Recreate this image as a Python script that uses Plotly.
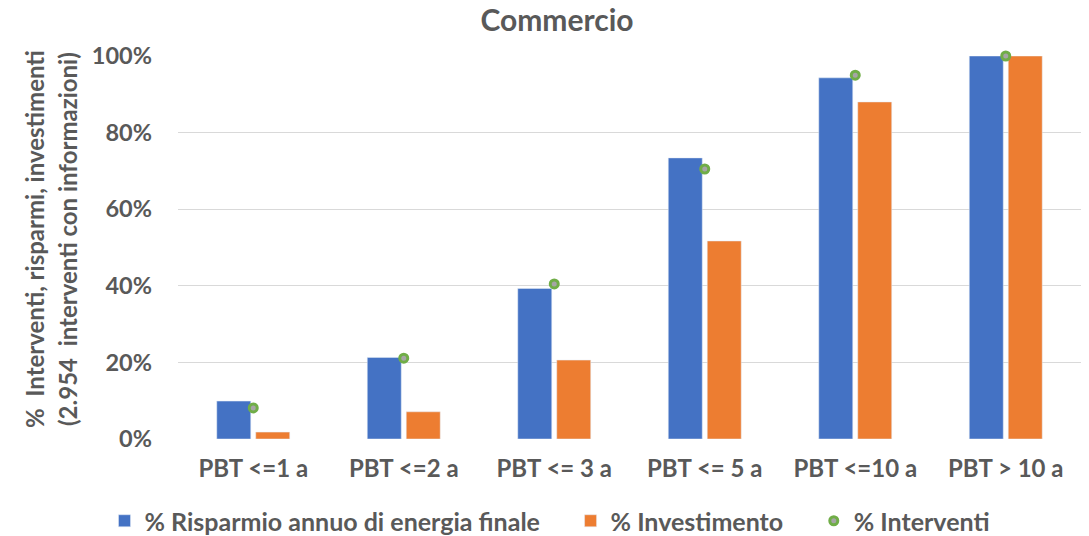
import plotly.graph_objects as go

categories = ["PBT <=1 a", "PBT <=2 a", "PBT <= 3 a", "PBT <= 5 a", "PBT <=10 a", "PBT > 10 a"]
risparmio = [0.099, 0.213, 0.393, 0.734, 0.943, 1.0]
investimento = [0.018, 0.071, 0.206, 0.517, 0.880, 1.0]
interventi = [0.081, 0.211, 0.405, 0.705, 0.950, 1.0]
y_title_lines = ["%  Interventi, risparmi, investimenti", "(2.954  interventi con informazioni)"]

FONT = "Lato"
GRAY = "#595959"
SP = "&nbsp;" * 4

fig = go.Figure()
fig.add_trace(go.Bar(x=categories, y=risparmio, name="<b>% Risparmio annuo di energia finale</b>" + SP,
                     marker=dict(color="#4472C4")))
fig.add_trace(go.Bar(x=categories, y=investimento, name="<b>% Investimento</b>" + SP,
                     marker=dict(color="#ED7D31")))
fig.add_trace(go.Scatter(x=categories, y=interventi, name="<b>% Interventi</b>", mode="markers",
                         marker=dict(color="#A5A5A5", size=8, line=dict(color="#70AD47", width=3)),
                         cliponaxis=False))

fig.update_layout(
    width=1089, height=536,
    paper_bgcolor="white", plot_bgcolor="white",
    margin=dict(l=178, r=8, t=56, b=97, autoexpand=False),
    barmode="group", bargap=0.482, bargroupgap=0.128,
    title=dict(text="<b>Commercio</b>", xref="container", x=557 / 1089, xanchor="center",
               y=1 - 20 / 536, yanchor="middle",
               font=dict(family=FONT, size=30, color=GRAY)),
    font=dict(family=FONT, color=GRAY),
    showlegend=True,
    legend=dict(orientation="h", xref="container", x=550 / 1089, xanchor="center",
                yref="container", y=(536 - 521) / 536, yanchor="middle",
                font=dict(family=FONT, size=25, color=GRAY), itemwidth=30,
                traceorder="normal"),
    yaxis=dict(range=[0, 1], tickvals=[0, 0.2, 0.4, 0.6, 0.8, 1.0],
               ticktext=["<b>0%</b>", "<b>20%</b>", "<b>40%</b>", "<b>60%</b>", "<b>80%</b>", "<b>100%</b>"],
               tickfont=dict(family=FONT, size=23.5, color=GRAY), automargin=False,
               showgrid=True, gridcolor="#D9D9D9", gridwidth=1, zeroline=False,
               showline=False, ticks="", ticklen=0, ticklabelstandoff=25),
    xaxis=dict(tickfont=dict(family=FONT, size=24, color=GRAY), showline=False, ticks="",
               automargin=False, ticklabelstandoff=13,
               tickprefix="<b>", ticksuffix="</b>"),
)

for i, (line, xpx) in enumerate(zip(y_title_lines, [35, 68])):
    fig.add_annotation(text="<b>" + line + "</b>", textangle=-90, showarrow=False,
                       xref="paper", yref="paper", x=(xpx - 178) / 903, y=(439 - 239) / 383,
                       xanchor="center", yanchor="middle",
                       font=dict(family=FONT, size=24, color=GRAY))

fig.write_html("out.html")
